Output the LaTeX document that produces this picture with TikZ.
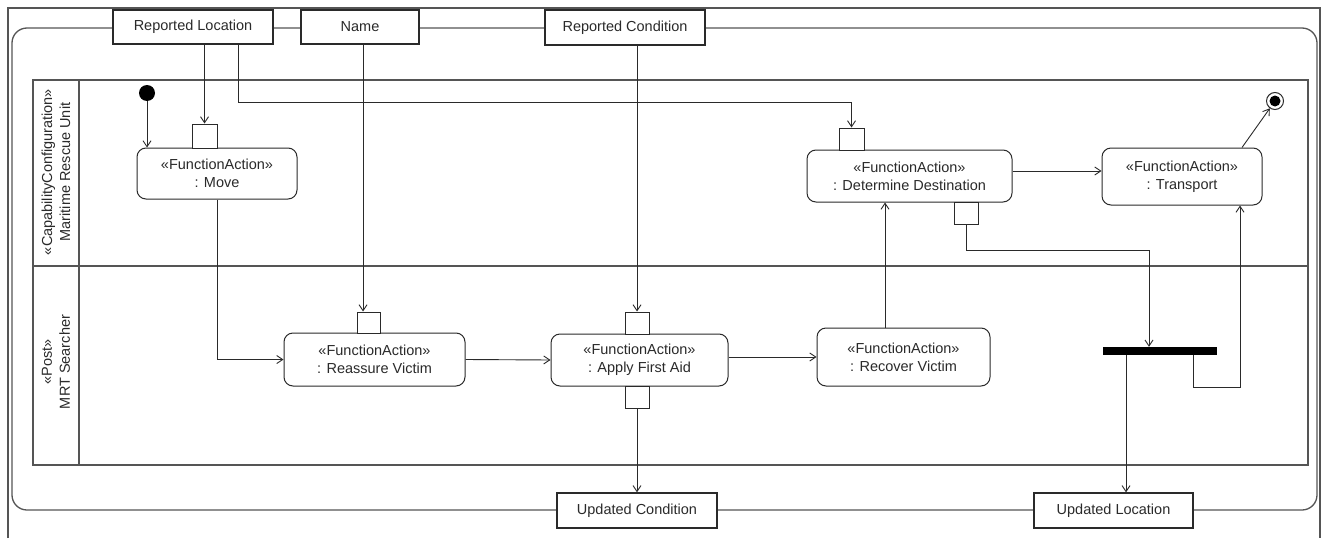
\documentclass[tikz,border=0pt]{standalone}
\usepackage{fontspec}
\setmainfont{Liberation Sans}
\usetikzlibrary{arrows.meta}
\definecolor{ln}{HTML}{2A2A2A}
\definecolor{fr}{HTML}{555555}
\begin{document}
\begin{tikzpicture}[x=1pt,y=-1pt,
  txt/.style={font=\fontsize{14.5}{18}\selectfont, text=ln},
  action/.style={txt, draw=ln, line width=1pt, rounded corners=9pt, align=center, inner sep=0pt, fill=white},
  pinbox/.style={draw=ln, line width=1pt, inner sep=0pt, fill=white},
  parambox/.style={txt, draw=ln, line width=1.3pt, inner sep=0pt, fill=white},
  arr/.style={draw=ln, line width=0.9pt, -{Straight Barb[length=6pt,width=8pt]}},
  frame/.style={draw=fr, line width=1.3pt}]
\useasboundingbox (0,0) rectangle (1327,538);
\fill[white] (0,0) rectangle (1327,538);
% outer frame
\draw[frame] (8,538) -- (8,8) -- (1320,8) -- (1320,538);
% activity frame
\draw[frame, rounded corners=15pt] (12,28) rectangle (1317,510);
% swimlanes
\draw[frame] (33,80) rectangle (1308,465);
\draw[frame] (79,80) -- (79,465);
\draw[frame] (33,266) -- (1308,266);
\node[txt, rotate=90, align=center] (lane1) at (56,172) {«CapabilityConfiguration»\\Maritime Rescue Unit};
\node[txt, rotate=90, align=center] (lane2) at (56,362) {«Post»\\MRT Searcher};
% parameters
\node[parambox, minimum width=160pt, minimum height=34pt] (RL) at (193,27) {Reported Location};
\node[parambox, minimum width=118pt, minimum height=34pt] (NM) at (360,27) {Name};
\node[parambox, minimum width=160pt, minimum height=35pt] (RC) at (625,27.5) {Reported Condition};
\node[parambox, minimum width=160pt, minimum height=35pt] (UC) at (637,510.5) {Updated Condition};
\node[parambox, minimum width=159pt, minimum height=35pt] (UL) at (1113.5,510.5) {Updated Location};
% actions
\node[action, minimum width=160pt, minimum height=51pt] (MV) at (217,173.5) {«FunctionAction»\\: Move};
\node[action, minimum width=205pt, minimum height=52pt] (DD) at (909.5,176) {«FunctionAction»\\: Determine Destination};
\node[action, minimum width=160pt, minimum height=57pt] (TR) at (1182,176.5) {«FunctionAction»\\: Transport};
\node[action, minimum width=181pt, minimum height=53pt] (RV) at (374.5,359.5) {«FunctionAction»\\: Reassure Victim};
\node[action, minimum width=177pt, minimum height=52pt] (AF) at (639.5,360) {«FunctionAction»\\: Apply First Aid};
\node[action, minimum width=173pt, minimum height=58pt] (RE) at (903.5,357) {«FunctionAction»\\: Recover Victim};
% pins
\node[pinbox, minimum width=25pt, minimum height=24pt] (pMV) at (204.5,136) {};
\node[pinbox, minimum width=25pt, minimum height=22pt] (pDDi) at (851.5,139) {};
\node[pinbox, minimum width=24pt, minimum height=22pt] (pDDo) at (966,213) {};
\node[pinbox, minimum width=23pt, minimum height=21pt] (pRV) at (368.5,322.5) {};
\node[pinbox, minimum width=24pt, minimum height=22pt] (pAFi) at (637,323) {};
\node[pinbox, minimum width=24pt, minimum height=22pt] (pAFo) at (637,397) {};
% control nodes
\node[circle, fill=black, inner sep=0pt, minimum size=16pt] (init) at (147,93) {};
\node[circle, draw=ln, line width=1pt, fill=white, inner sep=0pt, minimum size=17pt] (final) at (1275,101) {};
\fill[black] (final) circle (5.5pt);
\node[fill=black, inner sep=0pt, minimum width=114pt, minimum height=8pt] (fork) at (1160,351) {};
% helper coordinates
\coordinate (k1) at (1149,250);
\coordinate (k3) at (1240,387);
\coordinate (k4) at (238,102);
% connectors
\draw[arr] (init) -- (init |- MV.north);
\draw[arr] (RL.south -| pMV.north) -- (pMV.north);
\draw[arr] (RL.south -| k4) -- (k4) -| (pDDi.north);
\draw[arr] ([xshift=3pt]NM.south) -- ([xshift=3pt]NM.south |- pRV.north);
\draw[arr] (RC.south -| pAFi.north) -- (pAFi.north);
\draw[arr] (pAFo.south) -- (pAFo.south |- UC.north);
\draw[arr] (MV.south) |- (RV.west);
\draw[arr] (RV.east) -- (AF.west);
\draw[arr] (AF.east |- RE.west) -- (RE.west);
\draw[arr] ([xshift=-18.5pt]RE.north) -- ([xshift=-18.5pt]RE.north |- DD.south);
\draw[arr] ([yshift=5pt]DD.east) -- ([yshift=5pt]DD.east -| TR.west);
\draw[arr] (pDDo.south) |- (k1) -- (k1 |- fork.north);
\draw[arr] ([xshift=-34pt]fork.south) -- ([xshift=-34pt]fork.south |- UL.north);
\draw[arr] ([xshift=33pt]fork.south) |- (k3) -- (k3 |- TR.south);
\draw[arr] ([xshift=60pt]TR.north) -- (final);
\end{tikzpicture}
\end{document}
